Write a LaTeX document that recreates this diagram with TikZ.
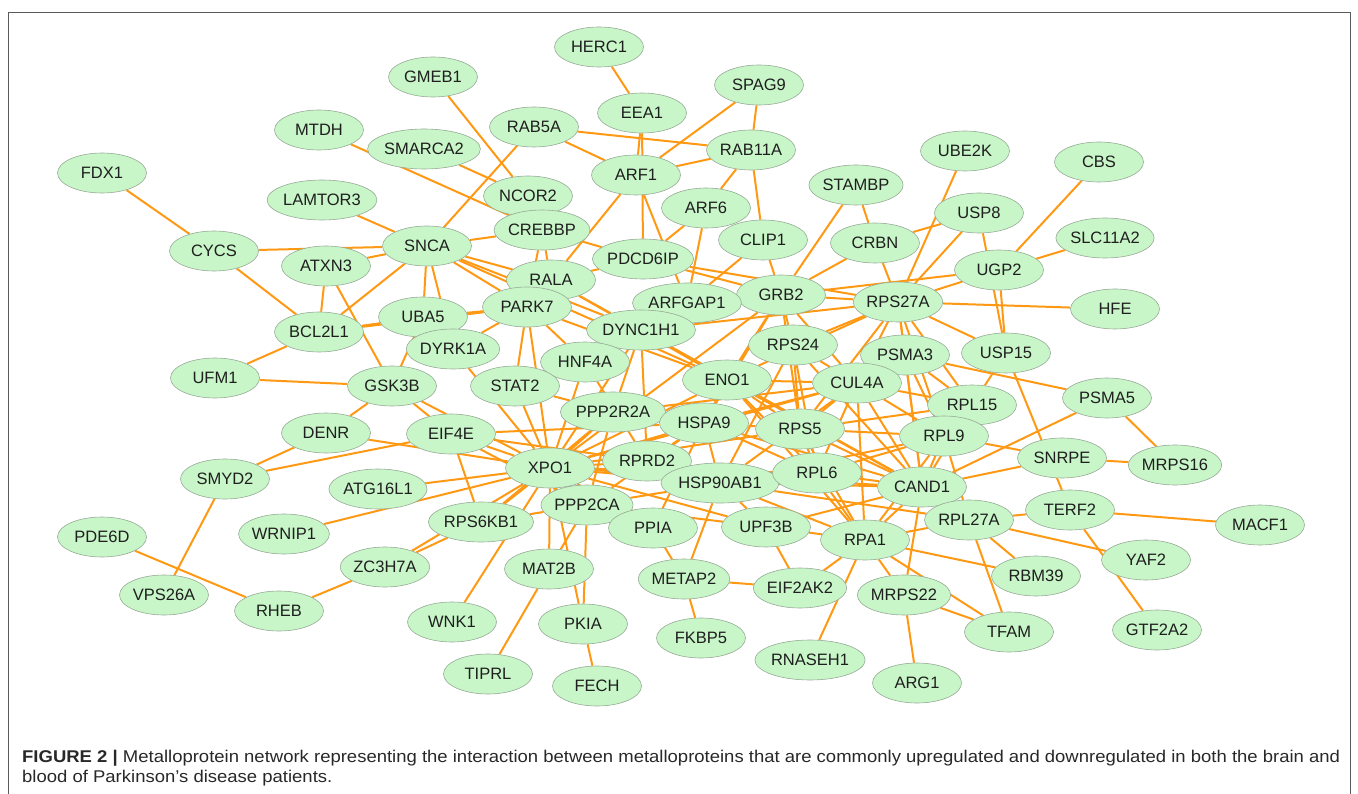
\documentclass[tikz,border=0pt]{standalone}
\usepackage{fontspec}
\setmainfont{Liberation Sans}
\usetikzlibrary{shapes.geometric}
\pgfdeclarelayer{background}
\pgfsetlayers{background,main}
\definecolor{edgeor}{RGB}{255,153,20}
\definecolor{nodefill}{RGB}{200,246,200}
\definecolor{nodeline}{RGB}{150,170,150}
\definecolor{framegray}{RGB}{90,90,90}
\definecolor{captext}{RGB}{40,40,40}
\newsavebox{\capboxA}
\newsavebox{\capboxB}
\begin{document}
\sbox{\capboxA}{\fontsize{17}{20}\selectfont\color{captext}\textbf{FIGURE 2 |} Metalloprotein network representing the interaction between metalloproteins that are commonly upregulated and downregulated in both the brain and}%
\sbox{\capboxB}{\fontsize{17}{20}\selectfont\color{captext}blood of Parkinson’s disease patients.}%
\begin{tikzpicture}[x=1pt,y=-1pt,
  prot/.style={ellipse,draw=nodeline,line width=0.6pt,fill=nodefill,
    minimum width=89pt,minimum height=40pt,inner sep=0pt,
    font=\fontsize{16.5}{18}\selectfont,text=black!88},
  edge/.style={draw=edgeor,line width=2pt},
  framer/.style={draw=framegray,line width=0.8pt}]
\useasboundingbox (0,0) rectangle (1358,794);
\draw[framer] (8,794) -- (8,12) -- (1350,12) -- (1350,794);

\foreach \n/\x/\y in {
 HERC1/599/47, GMEB1/433/77, SPAG9/759/85, EEA1/642/113, MTDH/319/130,
 RAB5A/534/127, SMARCA2/424/149, RAB11A/751/150, UBE2K/965/151, CBS/1099/162,
 FDX1/102/173, ARF1/636/175, NCOR2/528/196, STAMBP/856/185, LAMTOR3/322/200,
 ARF6/706/208, USP8/979/213, SLC11A2/1105/238, CREBBP/542/230, CLIP1/763/240,
 CRBN/875/243, CYCS/214/251, SNCA/427/246, ATXN3/326/266, PDCD6IP/643/259,
 RALA/551/280, UGP2/999/270, GRB2/781/295, RPS27A/898/302, ARFGAP1/687/303,
 PARK7/527/307, HFE/1115/309, BCL2L1/319/332, UBA5/423/317, DYNC1H1/641/330,
 DYRK1A/453/349, RPS24/793/345, PSMA3/905/355, USP15/1006/353, HNF4A/585/362,
 UFM1/215/378, GSK3B/392/386, ENO1/727/380, CUL4A/857/383, STAT2/515/386,
 RPL15/972/405, PSMA5/1107/398, PPP2R2A/613/412, DENR/326/433, EIF4E/451/434,
 HSPA9/704/423, RPS5/800/429, RPL9/944/436, SNRPE/1062/458, MRPS16/1175/465,
 XPO1/550/468, RPRD2/647/461, SMYD2/225/479, HSP90AB1/720/483, RPL6/817/473,
 CAND1/922/487, ATG16L1/378/489, TERF2/1070/510, MACF1/1260/525, PPP2CA/587/505,
 RPL27A/969/520, RPS6KB1/481/522, PPIA/653/528, UPF3B/766/527, WRNIP1/284/534,
 RPA1/865/540, PDE6D/102/537, ZC3H7A/385/567, MAT2B/549/569, METAP2/684/579,
 EIF2AK2/800/588, RBM39/1036/576, YAF2/1146/560, MRPS22/904/595, VPS26A/164/595,
 RHEB/279/611, WNK1/452/622, PKIA/583/624, FKBP5/701/638, TFAM/1009/632,
 GTF2A2/1157/630, RNASEH1/810/660, TIPRL/488/674, FECH/597/686, ARG1/917/683}
 \node[prot] (\n) at (\x,\y) {\n};

\begin{pgfonlayer}{background}
\foreach \a/\b in {
 HERC1/EEA1, EEA1/ARF1, EEA1/PDCD6IP, SPAG9/ARF1, SPAG9/RAB11A, RAB5A/RAB11A,
 RAB5A/ARF1, RAB5A/SNCA, RAB11A/ARF1, RAB11A/ARF6, RAB11A/CLIP1, GMEB1/NCOR2,
 SMARCA2/NCOR2, MTDH/CREBBP, ARF1/RALA, ARF1/ARFGAP1, ARF6/PDCD6IP, ARF6/ARFGAP1,
 CREBBP/SNCA, CREBBP/PDCD6IP, CREBBP/RALA, CREBBP/PARK7, STAMBP/GRB2, STAMBP/CRBN,
 UBE2K/RPS27A, USP8/CRBN, USP8/RPS27A, USP8/USP15, CBS/UGP2, SLC11A2/UGP2,
 UGP2/RPS27A, UGP2/GRB2, UGP2/USP15, RPS27A/HFE, RPS27A/USP15, CRBN/GRB2,
 CRBN/RPS27A, CLIP1/GRB2, CLIP1/ARFGAP1, PDCD6IP/GRB2, PDCD6IP/RPS27A, PDCD6IP/RALA,
 GRB2/RPS27A, GRB2/ARFGAP1, GRB2/XPO1, GRB2/RPS24, GRB2/ENO1, FDX1/CYCS,
 CYCS/SNCA, CYCS/BCL2L1, ATXN3/SNCA, ATXN3/BCL2L1, ATXN3/GSK3B, LAMTOR3/SNCA,
 SNCA/BCL2L1, SNCA/UBA5, SNCA/DYRK1A, SNCA/RALA, SNCA/PARK7, SNCA/DYNC1H1,
 SNCA/ENO1, BCL2L1/UBA5, BCL2L1/PARK7, BCL2L1/UFM1, UFM1/GSK3B, UBA5/GSK3B,
 UBA5/PARK7, DYRK1A/PARK7, DYRK1A/XPO1, GSK3B/DENR, GSK3B/EIF4E, GSK3B/XPO1,
 DENR/SMYD2, DENR/XPO1, SMYD2/EIF4E, SMYD2/VPS26A, EIF4E/XPO1, EIF4E/RPS6KB1,
 EIF4E/HSPA9, EIF4E/PPP2CA, EIF4E/RPRD2, ATG16L1/XPO1, WRNIP1/XPO1, PDE6D/RHEB,
 RHEB/ZC3H7A, ZC3H7A/RPS6KB1, ZC3H7A/XPO1, RPS6KB1/XPO1, WNK1/XPO1, TIPRL/MAT2B,
 MAT2B/PPP2CA, MAT2B/XPO1, PKIA/FECH, PKIA/PPP2CA, PKIA/XPO1, STAT2/XPO1,
 STAT2/PARK7, STAT2/PPP2R2A, HNF4A/XPO1, PARK7/HNF4A, PARK7/XPO1, METAP2/PPIA,
 METAP2/HSP90AB1, METAP2/FKBP5, METAP2/EIF2AK2, EIF2AK2/UPF3B, EIF2AK2/RPA1,
 RNASEH1/RPA1, UPF3B/RPA1, UPF3B/CAND1, UPF3B/XPO1, UPF3B/HSP90AB1, PPIA/HSPA9,
 RPA1/MRPS22, RPA1/TFAM, RPA1/RBM39, MRPS22/ARG1, MRPS22/TFAM, RPL27A/TFAM,
 RPL27A/RBM39, RPL27A/RPA1, RPL27A/YAF2, RPL27A/TERF2, TERF2/MACF1, TERF2/GTF2A2,
 USP15/TERF2, SNRPE/MRPS16, CAND1/SNRPE, PSMA5/MRPS16, PSMA5/CAND1, PSMA3/PSMA5,
 RPL9/SNRPE, USP15/RPL15, RPL9/RPL27A, CAND1/RPA1, CAND1/MRPS22, RPA1/HSP90AB1,
 RPA1/RPL6, RPA1/RPS5,
 XPO1/PPP2CA, XPO1/PPP2R2A, XPO1/RPRD2, XPO1/HSPA9, XPO1/HSP90AB1, XPO1/RPS5,
 XPO1/ENO1, XPO1/DYNC1H1, XPO1/CAND1, XPO1/RPL6, XPO1/PPIA, XPO1/CUL4A,
 CAND1/CUL4A, CAND1/RPS5, CAND1/RPL6, CAND1/RPL9, CAND1/RPL15, CAND1/RPS24,
 CAND1/ENO1, CAND1/HSPA9, CAND1/PSMA3, CAND1/HSP90AB1, CAND1/DYNC1H1, CAND1/RPS27A,
 CAND1/RPL27A, CUL4A/RPS27A, CUL4A/GRB2, CUL4A/ENO1, CUL4A/RPS5, CUL4A/RPL15,
 CUL4A/RPL9, CUL4A/PSMA3, CUL4A/RPL6, CUL4A/HSPA9, CUL4A/HSP90AB1, CUL4A/RPA1,
 CUL4A/RPS24, CUL4A/PPP2R2A, RPS27A/RPS24, RPS27A/PSMA3, RPS27A/RPL15, RPS27A/RPL9,
 RPS27A/RPS5, RPS27A/ENO1, GRB2/RPS5, GRB2/HSPA9, ENO1/HSPA9, ENO1/RPS5,
 ENO1/DYNC1H1, ENO1/RPL6, ENO1/RPA1, RPS24/RPS5, RPS24/RPL6, RPS24/HSP90AB1,
 RPS5/RPL9, RPS5/RPL15, RPS5/RPL6, RPS5/HSPA9, RPL9/RPL6, RPL9/RPA1,
 RPL9/RPL15, RPL9/HSP90AB1, RPL6/HSP90AB1, HSP90AB1/RPRD2, HSP90AB1/HSPA9,
 HSP90AB1/PPP2CA, HSP90AB1/RPL27A, DYNC1H1/PPP2R2A, DYNC1H1/RPRD2, DYNC1H1/ARFGAP1,
 DYNC1H1/RPS27A, PPP2R2A/PPP2CA, PPP2R2A/RPS6KB1, PPP2CA/RPS6KB1, PPP2CA/UPF3B,
 PPP2CA/HSPA9, HNF4A/RPRD2, RALA/DYNC1H1, RALA/ENO1, PARK7/ENO1, RALA/PARK7,
 PSMA3/RPL15, PSMA3/RPL9, HSPA9/RPL6, HSPA9/RPRD2}
 \draw[edge] (\a) -- (\b);
\end{pgfonlayer}

\pgfmathsetmacro{\capsc}{1318/\wd\capboxA}
\node[anchor=base west,inner sep=0pt] (capA) at (22,762) {\scalebox{\capsc}[1]{\usebox{\capboxA}}};
\node[anchor=base west,inner sep=0pt] (capB) at (22,782) {\scalebox{\capsc}[1]{\usebox{\capboxB}}};
\end{tikzpicture}
\end{document}
